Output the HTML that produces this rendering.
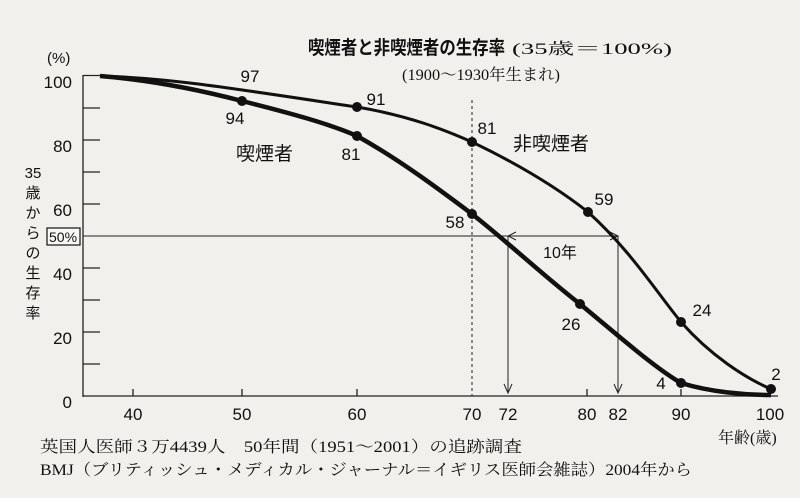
<!DOCTYPE html>
<html><head><meta charset="utf-8"><style>
html,body{margin:0;padding:0;background:#f1f0ec;}
svg{display:block;}
text{font-family:"Liberation Sans","Noto Sans CJK JP",sans-serif;fill:#111;}
.s{font-family:"Liberation Serif","Noto Serif CJK SC",serif;}
</style></head><body>
<svg width="800" height="498" viewBox="0 0 800 498" xmlns="http://www.w3.org/2000/svg">
<rect width="800" height="498" fill="#f1f0ec"/>
<g stroke="#222" stroke-width="1.3" fill="none">
<line x1="83" y1="75" x2="83" y2="397"/>
<line x1="83" y1="396" x2="778" y2="396"/>
<line x1="83" y1="75.5" x2="100" y2="75.5"/>
<line x1="83" y1="108" x2="100" y2="108"/>
<line x1="83" y1="140" x2="100" y2="140"/>
<line x1="83" y1="172" x2="100" y2="172"/>
<line x1="83" y1="204" x2="100" y2="204"/>
<line x1="83" y1="268" x2="100" y2="268"/>
<line x1="83" y1="300" x2="100" y2="300"/>
<line x1="83" y1="332" x2="100" y2="332"/>
<line x1="83" y1="364" x2="100" y2="364"/>
<line x1="133" y1="389" x2="133" y2="396"/>
<line x1="242" y1="389" x2="242" y2="396"/>
<line x1="357" y1="389" x2="357" y2="396"/>
<line x1="587" y1="389" x2="587" y2="396"/>
<line x1="681" y1="389" x2="681" y2="396"/>
<line x1="83" y1="236" x2="618" y2="236" stroke-width="1"/>
<line x1="472" y1="100" x2="472" y2="396" stroke-dasharray="3,3" stroke-width="1"/>
<line x1="508" y1="236" x2="508" y2="392" stroke-width="1"/>
<line x1="618" y1="236" x2="618" y2="392" stroke-width="1"/>
<path d="M504 384 L508 393 L512 384 M614 384 L618 393 L622 384" stroke-width="1"/>
<path d="M516 232 L508 236 L516 240 M610 232 L618 236 L610 240" stroke-width="1"/>
<path d="M100 76 C170 78 230 88 357 107 C410 116 445 130 472 142 C520 165 560 190 588 212 C630 250 655 290 681 322 C710 355 745 378 771 389" stroke="#111" stroke-width="3"/>
<path d="M100 76 C150 80 200 90 242 101 C290 113 330 124 357 136 C400 160 440 190 472 214 C510 244 545 277 580 304 C620 337 655 368 681 383 C710 392 745 395 771 395" stroke="#111" stroke-width="4.5"/>
</g>
<g fill="#111">
<circle cx="242" cy="101" r="5"/><circle cx="357" cy="136" r="5"/><circle cx="472" cy="214" r="5"/><circle cx="580" cy="304" r="5"/><circle cx="681" cy="383" r="5"/>
<circle cx="357" cy="107" r="5"/><circle cx="472" cy="142" r="5"/><circle cx="588" cy="212" r="5"/><circle cx="681" cy="322" r="5"/><circle cx="771" cy="389" r="5"/>
</g>
<rect x="47" y="228" width="33" height="17" fill="#f8f8f5" stroke="#111" stroke-width="1.2"/>
<text x="49" y="242" font-size="14">50%</text>
<g font-size="17" text-anchor="end">
<text x="72" y="88">100</text><text x="72" y="152">80</text><text x="72" y="216">60</text><text x="72" y="280">40</text><text x="72" y="344">20</text><text x="72" y="408">0</text>
</g>
<text x="47" y="63" font-size="15">(%)</text>
<g font-size="15" text-anchor="middle">
<text x="33" y="178">35</text><text x="33" y="198">歳</text><text x="33" y="218">か</text><text x="33" y="238">ら</text><text x="33" y="258">の</text><text x="33" y="278">生</text><text x="33" y="298">存</text><text x="33" y="318">率</text>
</g>
<g font-size="17" text-anchor="middle">
<text x="133" y="420">40</text><text x="242" y="420">50</text><text x="357" y="420">60</text><text x="472" y="420">70</text><text x="508" y="420">72</text><text x="587" y="420">80</text><text x="618" y="420">82</text><text x="681" y="420">90</text><text x="770" y="420">100</text>
<text x="250" y="82">97</text><text x="235" y="124">94</text><text x="376" y="105">91</text><text x="351" y="160">81</text><text x="487" y="134">81</text><text x="455" y="228">58</text><text x="604" y="205">59</text><text x="571" y="330">26</text><text x="702" y="316">24</text><text x="661" y="389">4</text><text x="776" y="380">2</text>
</g>
<text x="560" y="258" font-size="16" text-anchor="middle">10年</text>
<text x="236" y="160" font-size="19">喫煙者</text>
<text x="513" y="150" font-size="19">非喫煙者</text>
<text x="308" y="54" font-size="19" font-weight="bold" textLength="197" lengthAdjust="spacingAndGlyphs">喫煙者と非喫煙者の生存率</text>
<text x="512" y="54" font-size="16" class="s" textLength="160" lengthAdjust="spacingAndGlyphs">(35歳＝100%)</text>
<text x="402" y="80" font-size="16" class="s" textLength="158" lengthAdjust="spacingAndGlyphs">(1900〜1930年生まれ)</text>
<text x="718" y="443" font-size="16" class="s">年齢(歳)</text>
<text x="40" y="452" font-size="16" class="s" textLength="482" lengthAdjust="spacingAndGlyphs">英国人医師３万4439人　50年間（1951〜2001）の追跡調査</text>
<text x="40" y="475" font-size="16" class="s" textLength="652" lengthAdjust="spacingAndGlyphs">BMJ（ブリティッシュ・メディカル・ジャーナル＝イギリス医師会雑誌）2004年から</text>
</svg>
</body></html>
